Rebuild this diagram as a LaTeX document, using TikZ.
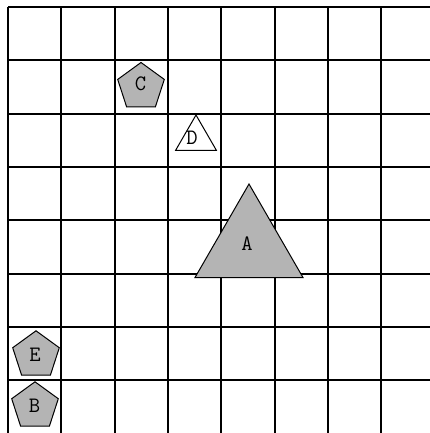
\documentclass[tikz,border=0pt]{standalone}
\usepackage{fontspec}
\usetikzlibrary{shapes.geometric}
\definecolor{shapegray}{RGB}{180,180,180}
\tikzset{
  gridline/.style={line width=2pt, black},
  pent/.style={regular polygon, regular polygon sides=5, draw=black, fill=shapegray, line width=1pt, inner sep=0pt},
  tri/.style={regular polygon, regular polygon sides=3, draw=black, line width=1pt, inner sep=0pt},
  lbl/.style={font=\ttfamily\fontsize{22}{22}\selectfont, inner sep=0pt}
}
\begin{document}
\begin{tikzpicture}[x=1pt,y=-1pt]
\useasboundingbox (0,0) rectangle (430,433);
\fill[white] (0,0) rectangle (430,433);
\foreach \k in {0,...,7}{
  \draw[gridline] ({8+53.33*\k},7) -- ({8+53.33*\k},433);
  \draw[gridline] (8,{7+53.33*\k}) -- (430,{7+53.33*\k});
}
% shapes
\node[pent, minimum size=49pt] (C) at (141,87) {};
\node[tri, fill=white, minimum size=47pt] (D) at (196,138.5) {};
\node[tri, fill=shapegray, minimum size=124.8pt] (A) at (249,246.4) {};
\node[pent, minimum size=49pt] (E) at (36,355.3) {};
\node[pent, minimum size=49pt] (B) at (35,406.3) {};
% labels
\node[lbl] (lC) at (140.5,84) {C};
\node[lbl] (lD) at (192,138) {D};
\node[lbl] (lA) at (247,244) {A};
\node[lbl] (lE) at (35,354.5) {E};
\node[lbl] (lB) at (34.5,405.5) {B};
\end{tikzpicture}
\end{document}
